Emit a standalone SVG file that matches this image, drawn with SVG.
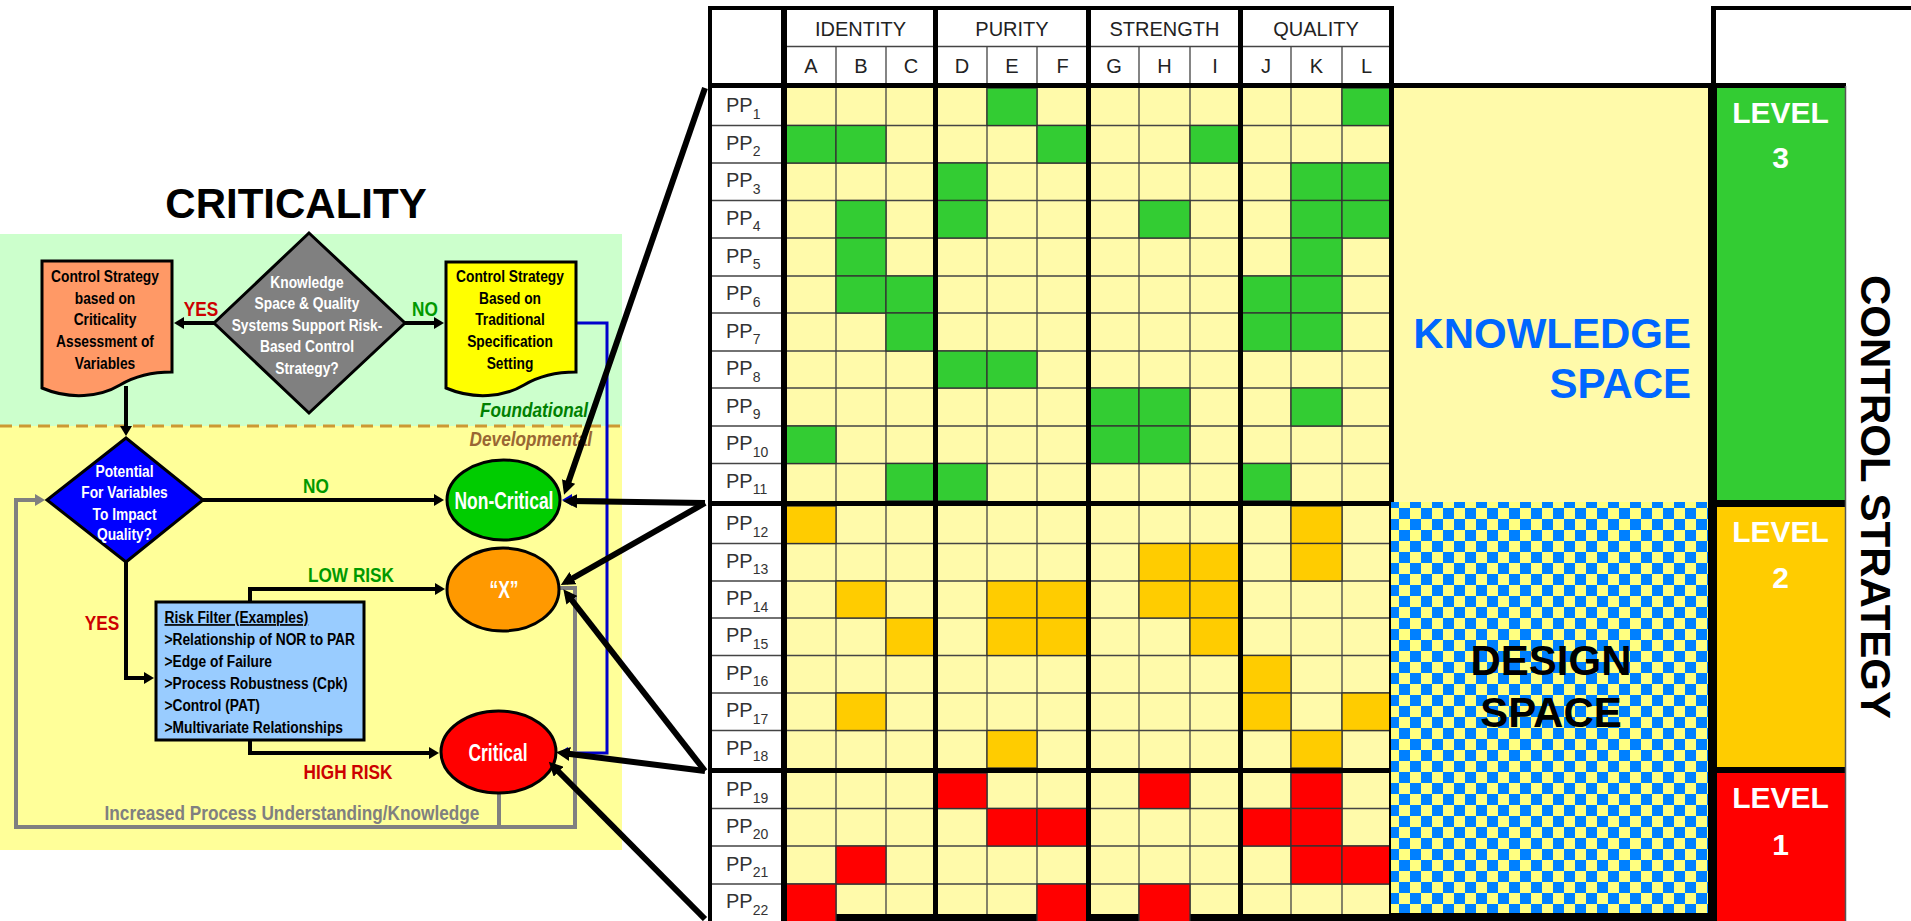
<svg xmlns="http://www.w3.org/2000/svg" width="1911" height="921" viewBox="0 0 1911 921">
<style>
.fc{font-family:"Liberation Sans",Arial,sans-serif;font-weight:bold}
.t17{font-size:17px}
.t21{font-size:21px}
.t23{font-size:23px}
.mid{text-anchor:middle}
.end{text-anchor:end}
.wt{fill:#fff}
.ln{fill:none;stroke:#000;stroke-width:4}
.fun{fill:none;stroke:#000;stroke-width:6}
.hd{font-family:"Liberation Sans",Arial,sans-serif;font-size:20px;fill:#222;text-anchor:middle}
.pp{font-family:"Liberation Sans",Arial,sans-serif;font-size:20px;fill:#333}
.sb{font-size:14px}
.cg{fill:#33CC33;stroke:#333;stroke-width:1.3}
.co{fill:#FFCC00;stroke:#333;stroke-width:1.3}
.cr{fill:#FF0000;stroke:#333;stroke-width:1.3}
.big{font-family:"Liberation Sans",Arial,sans-serif;font-weight:bold;font-size:42px}
.lv{font-family:"Liberation Sans",Arial,sans-serif;font-weight:bold;font-size:30px;fill:#fff;text-anchor:middle}
.thick{fill:#000}
</style>
<defs>
<marker id="ak" viewBox="0 0 10 12" refX="6" refY="6" markerWidth="10" markerHeight="12" markerUnits="userSpaceOnUse" orient="auto"><path d="M0,0 L10,6 L0,12 z" fill="#000"/></marker>
<marker id="ab" viewBox="0 0 10 12" refX="6" refY="6" markerWidth="10" markerHeight="12" markerUnits="userSpaceOnUse" orient="auto"><path d="M0,0 L10,6 L0,12 z" fill="#0000CC"/></marker>
<marker id="ag" viewBox="0 0 10 12" refX="6" refY="6" markerWidth="10" markerHeight="12" markerUnits="userSpaceOnUse" orient="auto"><path d="M0,0 L10,6 L0,12 z" fill="#808080"/></marker>
<marker id="af" viewBox="0 0 14 14" refX="8" refY="7" markerWidth="14" markerHeight="14" markerUnits="userSpaceOnUse" orient="auto"><path d="M0,0 L14,7 L0,14 z" fill="#000"/></marker>
<pattern id="chk" patternUnits="userSpaceOnUse" x="1399" y="508" width="22" height="22"><rect width="22" height="22" fill="#FFFF80"/><rect width="11" height="11" fill="#0080FF"/><rect x="11" y="11" width="11" height="11" fill="#0080FF"/></pattern>
</defs>
<rect width="1911" height="921" fill="#fff"/>

<g id="backgrounds">
<rect x="0" y="234" width="622" height="192" fill="#CCFFCC"/>
<rect x="0" y="426" width="622" height="424" fill="#FFFF99"/>
<line x1="0" y1="426" x2="622" y2="426" stroke="#CC9933" stroke-width="3" stroke-dasharray="12 7"/>
<text class="fc t21 end" transform="matrix(0.82 0 0 1 105.84 0)" x="588" y="417" fill="#008000" font-style="italic">Foundational</text>
<text class="fc t21 end" transform="matrix(0.82 0 0 1 106.56 0)" x="592" y="446" fill="#996633" font-style="italic">Developmental</text>
<text class="fc t21 mid" transform="matrix(0.82 0 0 1 52.56 0)" x="292" y="820" fill="#808080">Increased Process Understanding/Knowledge</text>
</g>
<text id="title" x="296" y="218" text-anchor="middle" font-family="Liberation Sans, Arial, sans-serif" font-weight="bold" font-size="42">CRITICALITY</text>

<g id="connectors">
<path class="ln" d="M214,323 H178" marker-end="url(#ak)"/>
<path class="ln" d="M405,323 H440" marker-end="url(#ak)"/>
<path class="ln" d="M126,386 V432" marker-end="url(#ak)"/>
<path class="ln" d="M203,500 H440" marker-end="url(#ak)"/>
<path class="ln" d="M126,562 V678 H150" marker-end="url(#ak)"/>
<path class="ln" d="M250,602 V589 H441" marker-end="url(#ak)"/>
<path class="ln" d="M250,740 V753 H435" marker-end="url(#ak)"/>
<path d="M576,323 H607 V753 H562" fill="none" stroke="#0000CC" stroke-width="3" marker-end="url(#ab)"/>
<path d="M607,500 H566" fill="none" stroke="#0000CC" stroke-width="3" marker-end="url(#ab)"/>
<path d="M559,588 H575 V827 H16 V500 H41" fill="none" stroke="#808080" stroke-width="4" marker-end="url(#ag)"/>
<path d="M499,793 V827" fill="none" stroke="#808080" stroke-width="4"/>
<text class="fc t21 mid" transform="matrix(0.82 0 0 1 36.18 0)" x="201" y="316" fill="#CC0000">YES</text>
<text class="fc t21 mid" transform="matrix(0.82 0 0 1 76.5 0)" x="425" y="316" fill="#009900">NO</text>
<text class="fc t21 mid" transform="matrix(0.82 0 0 1 56.88 0)" x="316" y="493" fill="#009900">NO</text>
<text class="fc t21 mid" transform="matrix(0.82 0 0 1 18.36 0)" x="102" y="630" fill="#CC0000">YES</text>
<text class="fc t21 mid" transform="matrix(0.82 0 0 1 63.18 0)" x="351" y="582" fill="#009900">LOW RISK</text>
<text class="fc t21 mid" transform="matrix(0.82 0 0 1 62.64 0)" x="348" y="779" fill="#CC0000">HIGH RISK</text>
</g>

<g id="doc-criticality">
<path d="M42,261 H172 V372 C150,372 135,376 120,385 C100,397 70,400 42,388 Z" fill="#FF9966" stroke="#000" stroke-width="3"/>
<text class="fc t17 mid" transform="matrix(0.81 0 0 1 19.95 0)" x="105" y="282">Control Strategy<tspan x="105" dy="21.7">based on</tspan><tspan x="105" dy="21.7">Criticality</tspan><tspan x="105" dy="21.7">Assessment of</tspan><tspan x="105" dy="21.7">Variables</tspan></text>
</g>
<g id="diamond-knowledge">
<path d="M309,233 L405,323 L309,413 L214,323 Z" fill="#808080" stroke="#000" stroke-width="3"/>
<text class="fc t17 mid wt" transform="matrix(0.81 0 0 1 58.33 0)" x="307" y="288">Knowledge<tspan x="307" dy="21.5">Space &amp; Quality</tspan><tspan x="307" dy="21.5">Systems Support Risk-</tspan><tspan x="307" dy="21.5">Based Control</tspan><tspan x="307" dy="21.5">Strategy?</tspan></text>
</g>
<g id="doc-traditional">
<path d="M446,262 H576 V372 C554,372 539,376 524,385 C504,397 474,400 446,388 Z" fill="#FFFF00" stroke="#000" stroke-width="3"/>
<text class="fc t17 mid" transform="matrix(0.81 0 0 1 96.9 0)" x="510" y="282">Control Strategy<tspan x="510" dy="21.7">Based on</tspan><tspan x="510" dy="21.7">Traditional</tspan><tspan x="510" dy="21.7">Specification</tspan><tspan x="510" dy="21.7">Setting</tspan></text>
</g>
<g id="diamond-potential">
<path d="M126,438 L203,500 L126,562 L47,500 Z" fill="#0000FF" stroke="#000" stroke-width="3"/>
<text class="fc t17 mid wt" transform="matrix(0.81 0 0 1 23.66 0)" x="124.5" y="477">Potential<tspan x="124.5" dy="21.5">For Variables</tspan><tspan x="124.5" dy="21.5">To Impact</tspan><tspan x="124.5" dy="20">Quality?</tspan></text>
</g>
<g id="risk-filter">
<rect x="156" y="602" width="208" height="138" fill="#99CCFF" stroke="#000" stroke-width="3"/>
<text class="fc t17" transform="matrix(0.81 0 0 1 31.26 0)" x="164.5" y="623"><tspan text-decoration="underline">Risk Filter (Examples)</tspan><tspan x="164.5" dy="22">&gt;Relationship of NOR to PAR</tspan><tspan x="164.5" dy="22">&gt;Edge of Failure</tspan><tspan x="164.5" dy="22">&gt;Process Robustness (Cpk)</tspan><tspan x="164.5" dy="22">&gt;Control (PAT)</tspan><tspan x="164.5" dy="22">&gt;Multivariate Relationships</tspan></text>
</g>
<g id="node-noncritical">
<ellipse cx="503.5" cy="500" rx="56.5" ry="40" fill="#00CC00" stroke="#000" stroke-width="3"/>
<text class="fc t23 mid wt" transform="matrix(0.76 0 0 1 120.96 0)" x="504" y="509">Non-Critical</text>
</g>
<g id="node-x">
<ellipse cx="503" cy="589.5" rx="56" ry="41.5" fill="#FF9900" stroke="#000" stroke-width="3"/>
<text class="fc t23 mid wt" transform="matrix(0.76 0 0 1 120.96 0)" x="504" y="598">&#8220;X&#8221;</text>
</g>
<g id="node-critical">
<ellipse cx="498.5" cy="752" rx="57.5" ry="41" fill="#FF0000" stroke="#000" stroke-width="3"/>
<text class="fc t23 mid wt" transform="matrix(0.76 0 0 1 119.52 0)" x="498" y="761">Critical</text>
</g>

<g id="matrix">
<rect x="710" y="8" width="681" height="78" fill="#fff"/>
<rect x="712" y="88" width="70" height="833" fill="#fff"/>
<rect x="786" y="88" width="605" height="833" fill="#FFFAAA"/>
<path d="M712 125.5H1391M712 163H1391M712 200.5H1391M712 238H1391M712 276H1391M712 313H1391M712 351H1391M712 388H1391M712 426H1391M712 463.5H1391M712 543.5H1391M712 581H1391M712 618H1391M712 655.5H1391M712 693H1391M712 730.5H1391M712 808.5H1391M712 846H1391M712 884H1391M787 46.5H1391M836 46.5V921M886 46.5V921M987 46.5V921M1037 46.5V921M1139 46.5V921M1190 46.5V921M1291 46.5V921M1342 46.5V921" stroke="#444" stroke-width="1.3" fill="none"/>
<rect class="cg" x="987" y="88" width="50" height="37.5"/>
<rect class="cg" x="1342" y="88" width="49" height="37.5"/>
<rect class="cg" x="786" y="125.5" width="50" height="37.5"/>
<rect class="cg" x="836" y="125.5" width="50" height="37.5"/>
<rect class="cg" x="1037" y="125.5" width="51" height="37.5"/>
<rect class="cg" x="1190" y="125.5" width="50" height="37.5"/>
<rect class="cg" x="937" y="163" width="50" height="37.5"/>
<rect class="cg" x="1291" y="163" width="51" height="37.5"/>
<rect class="cg" x="1342" y="163" width="49" height="37.5"/>
<rect class="cg" x="836" y="200.5" width="50" height="37.5"/>
<rect class="cg" x="937" y="200.5" width="50" height="37.5"/>
<rect class="cg" x="1139" y="200.5" width="51" height="37.5"/>
<rect class="cg" x="1291" y="200.5" width="51" height="37.5"/>
<rect class="cg" x="1342" y="200.5" width="49" height="37.5"/>
<rect class="cg" x="836" y="238" width="50" height="38"/>
<rect class="cg" x="1291" y="238" width="51" height="38"/>
<rect class="cg" x="836" y="276" width="50" height="37"/>
<rect class="cg" x="886" y="276" width="50" height="37"/>
<rect class="cg" x="1241" y="276" width="50" height="37"/>
<rect class="cg" x="1291" y="276" width="51" height="37"/>
<rect class="cg" x="886" y="313" width="50" height="38"/>
<rect class="cg" x="1241" y="313" width="50" height="38"/>
<rect class="cg" x="1291" y="313" width="51" height="38"/>
<rect class="cg" x="937" y="351" width="50" height="37"/>
<rect class="cg" x="987" y="351" width="50" height="37"/>
<rect class="cg" x="1089" y="388" width="50" height="38"/>
<rect class="cg" x="1139" y="388" width="51" height="38"/>
<rect class="cg" x="1291" y="388" width="51" height="38"/>
<rect class="cg" x="786" y="426" width="50" height="37.5"/>
<rect class="cg" x="1089" y="426" width="50" height="37.5"/>
<rect class="cg" x="1139" y="426" width="51" height="37.5"/>
<rect class="cg" x="886" y="463.5" width="50" height="37.5"/>
<rect class="cg" x="937" y="463.5" width="50" height="37.5"/>
<rect class="cg" x="1241" y="463.5" width="50" height="37.5"/>
<rect class="co" x="786" y="506" width="50" height="37.5"/>
<rect class="co" x="1291" y="506" width="51" height="37.5"/>
<rect class="co" x="1139" y="543.5" width="51" height="37.5"/>
<rect class="co" x="1190" y="543.5" width="50" height="37.5"/>
<rect class="co" x="1291" y="543.5" width="51" height="37.5"/>
<rect class="co" x="836" y="581" width="50" height="37"/>
<rect class="co" x="987" y="581" width="50" height="37"/>
<rect class="co" x="1037" y="581" width="51" height="37"/>
<rect class="co" x="1139" y="581" width="51" height="37"/>
<rect class="co" x="1190" y="581" width="50" height="37"/>
<rect class="co" x="886" y="618" width="50" height="37.5"/>
<rect class="co" x="987" y="618" width="50" height="37.5"/>
<rect class="co" x="1037" y="618" width="51" height="37.5"/>
<rect class="co" x="1190" y="618" width="50" height="37.5"/>
<rect class="co" x="1241" y="655.5" width="50" height="37.5"/>
<rect class="co" x="836" y="693" width="50" height="37.5"/>
<rect class="co" x="1241" y="693" width="50" height="37.5"/>
<rect class="co" x="1342" y="693" width="49" height="37.5"/>
<rect class="co" x="987" y="730.5" width="50" height="37.5"/>
<rect class="co" x="1291" y="730.5" width="51" height="37.5"/>
<rect class="thick" x="787" y="914" width="607" height="7"/>
<rect class="cr" x="937" y="773" width="50" height="35.5"/>
<rect class="cr" x="1139" y="773" width="51" height="35.5"/>
<rect class="cr" x="1291" y="773" width="51" height="35.5"/>
<rect class="cr" x="987" y="808.5" width="50" height="37.5"/>
<rect class="cr" x="1037" y="808.5" width="51" height="37.5"/>
<rect class="cr" x="1241" y="808.5" width="50" height="37.5"/>
<rect class="cr" x="1291" y="808.5" width="51" height="37.5"/>
<rect class="cr" x="836" y="846" width="50" height="38"/>
<rect class="cr" x="1291" y="846" width="51" height="38"/>
<rect class="cr" x="1342" y="846" width="49" height="38"/>
<rect class="cr" x="786" y="884" width="50" height="38"/>
<rect class="cr" x="1037" y="884" width="51" height="38"/>
<rect class="cr" x="1139" y="884" width="51" height="38"/>
<rect class="thick" x="708" y="6" width="686" height="4"/>
<rect class="thick" x="708" y="6" width="4" height="915"/>
<rect class="thick" x="781" y="6" width="6" height="915"/>
<rect class="thick" x="933" y="6" width="5" height="915"/>
<rect class="thick" x="1086" y="6" width="5" height="915"/>
<rect class="thick" x="1238" y="6" width="5" height="915"/>
<rect class="thick" x="1389" y="6" width="5" height="915"/>
<rect class="thick" x="708" y="83" width="1138" height="5"/>
<rect class="thick" x="708" y="501" width="686" height="5"/>
<rect class="thick" x="708" y="768" width="686" height="5"/>
<text class="hd" x="860.5" y="36">IDENTITY</text>
<text class="hd" x="1012" y="36">PURITY</text>
<text class="hd" x="1164.5" y="36">STRENGTH</text>
<text class="hd" x="1316" y="36">QUALITY</text>
<text class="hd" x="811" y="73">A</text>
<text class="hd" x="861" y="73">B</text>
<text class="hd" x="911" y="73">C</text>
<text class="hd" x="962" y="73">D</text>
<text class="hd" x="1012" y="73">E</text>
<text class="hd" x="1062.5" y="73">F</text>
<text class="hd" x="1114" y="73">G</text>
<text class="hd" x="1164.5" y="73">H</text>
<text class="hd" x="1215" y="73">I</text>
<text class="hd" x="1266" y="73">J</text>
<text class="hd" x="1316.5" y="73">K</text>
<text class="hd" x="1366.5" y="73">L</text>
<text class="pp" x="726" y="112.3">PP<tspan class="sb" dy="6.5">1</tspan></text>
<text class="pp" x="726" y="149.8">PP<tspan class="sb" dy="6.5">2</tspan></text>
<text class="pp" x="726" y="187.3">PP<tspan class="sb" dy="6.5">3</tspan></text>
<text class="pp" x="726" y="224.8">PP<tspan class="sb" dy="6.5">4</tspan></text>
<text class="pp" x="726" y="262.5">PP<tspan class="sb" dy="6.5">5</tspan></text>
<text class="pp" x="726" y="300">PP<tspan class="sb" dy="6.5">6</tspan></text>
<text class="pp" x="726" y="337.5">PP<tspan class="sb" dy="6.5">7</tspan></text>
<text class="pp" x="726" y="375">PP<tspan class="sb" dy="6.5">8</tspan></text>
<text class="pp" x="726" y="412.5">PP<tspan class="sb" dy="6.5">9</tspan></text>
<text class="pp" x="726" y="450.3">PP<tspan class="sb" dy="6.5">10</tspan></text>
<text class="pp" x="726" y="487.8">PP<tspan class="sb" dy="6.5">11</tspan></text>
<text class="pp" x="726" y="530.3">PP<tspan class="sb" dy="6.5">12</tspan></text>
<text class="pp" x="726" y="567.8">PP<tspan class="sb" dy="6.5">13</tspan></text>
<text class="pp" x="726" y="605">PP<tspan class="sb" dy="6.5">14</tspan></text>
<text class="pp" x="726" y="642.3">PP<tspan class="sb" dy="6.5">15</tspan></text>
<text class="pp" x="726" y="679.8">PP<tspan class="sb" dy="6.5">16</tspan></text>
<text class="pp" x="726" y="717.3">PP<tspan class="sb" dy="6.5">17</tspan></text>
<text class="pp" x="726" y="754.8">PP<tspan class="sb" dy="6.5">18</tspan></text>
<text class="pp" x="726" y="796.3">PP<tspan class="sb" dy="6.5">19</tspan></text>
<text class="pp" x="726" y="832.8">PP<tspan class="sb" dy="6.5">20</tspan></text>
<text class="pp" x="726" y="870.5">PP<tspan class="sb" dy="6.5">21</tspan></text>
<text class="pp" x="726" y="908">PP<tspan class="sb" dy="6.5">22</tspan></text>
</g>

<g id="knowledge-space">
<rect x="1394" y="88" width="314" height="833" fill="#FFFAAA"/>
<text class="big end" x="1691" y="348" fill="#0066FF">KNOWLEDGE</text>
<text class="big end" x="1691" y="398" fill="#0066FF">SPACE</text>
</g>
<g id="design-space">
<rect x="1391" y="502" width="319" height="411" fill="url(#chk)"/>
<rect class="thick" x="1391" y="913" width="319" height="8"/>
<text class="big mid" x="1551" y="675" fill="#000">DESIGN</text>
<text class="big mid" x="1551" y="727" fill="#000">SPACE</text>
</g>
<g id="control-levels">
<rect x="1716" y="88" width="129" height="412" fill="#33CC33"/>
<rect x="1716" y="507" width="129" height="260" fill="#FFCC00"/>
<rect x="1716" y="773" width="129" height="148" fill="#FF0000"/>
<rect class="thick" x="1708" y="500" width="138" height="7"/>
<rect class="thick" x="1708" y="767" width="138" height="6"/>
<line x1="1845.5" y1="86" x2="1845.5" y2="921" stroke="#555" stroke-width="1.5"/>
<rect class="thick" x="1708" y="83" width="9" height="838"/>
<rect class="thick" x="1711" y="6" width="5" height="80"/>
<rect class="thick" x="1711" y="6" width="200" height="4"/>
<text class="lv" x="1780.5" y="123">LEVEL</text>
<text class="lv" x="1780.5" y="168">3</text>
<text class="lv" x="1780.5" y="542">LEVEL</text>
<text class="lv" x="1780.5" y="588">2</text>
<text class="lv" x="1780.5" y="808">LEVEL</text>
<text class="lv" x="1780.5" y="855">1</text>
<text class="big mid" transform="translate(1861,497) rotate(90)" fill="#000">CONTROL STRATEGY</text>
</g>

<g id="funnel-connectors">
<path class="fun" d="M705,88 L566,489" marker-end="url(#af)"/>
<path class="fun" d="M705,503 L569,501" marker-end="url(#af)"/>
<path class="fun" d="M705,503 L566,582" marker-end="url(#af)"/>
<path class="fun" d="M705,771 L567,594" marker-end="url(#af)"/>
<path class="fun" d="M705,771 L562,753" marker-end="url(#af)"/>
<path class="fun" d="M705,919 L553,766" marker-end="url(#af)"/>
</g>
</svg>
